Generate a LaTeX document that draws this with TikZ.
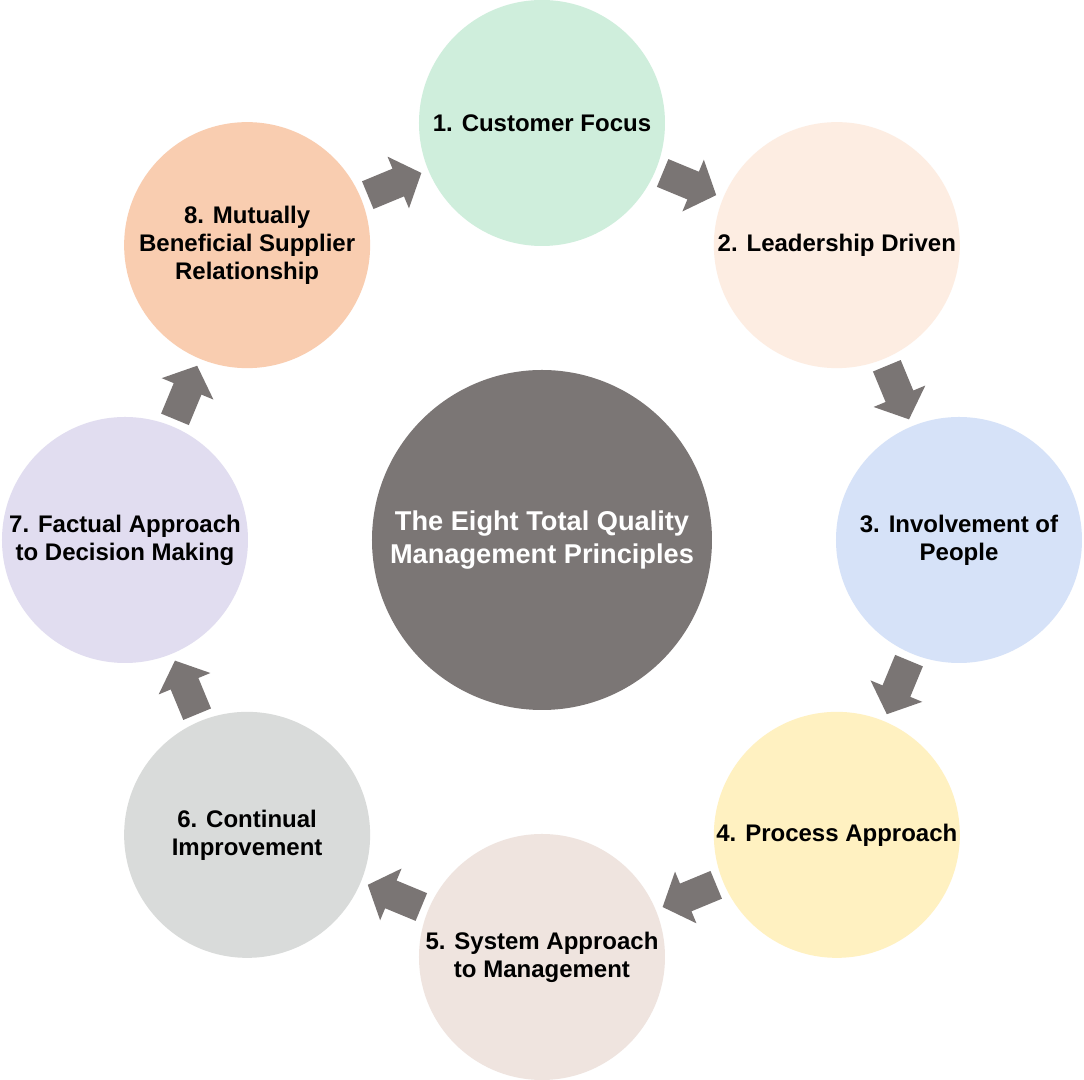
\documentclass[tikz,border=0pt]{standalone}
\usepackage{fontspec}
\setmainfont{Liberation Sans}
\usetikzlibrary{calc}
\definecolor{cA}{HTML}{CFEEDC}
\definecolor{cB}{HTML}{FDEDE2}
\definecolor{cC}{HTML}{D6E2F8}
\definecolor{cD}{HTML}{FFF1C1}
\definecolor{cE}{HTML}{EFE4DF}
\definecolor{cF}{HTML}{D9DBDA}
\definecolor{cG}{HTML}{E1DDF0}
\definecolor{cH}{HTML}{F9CDB0}
\definecolor{hubgray}{HTML}{7B7675}
\definecolor{arrowgray}{HTML}{7A7574}
\tikzset{
  principle/.style={circle, minimum size=123pt, inner sep=0pt, align=center,
    font=\bfseries\fontsize{12}{14}\selectfont, text=black},
  hub/.style={circle, minimum size=170pt, inner sep=0pt, align=center, fill=hubgray,
    font=\bfseries\fontsize{13.6}{16.5}\selectfont, text=white},
  blockarrow/.pic={\fill[arrowgray] (-29,-15) -- (4,-15) -- (4,-28) -- (29,0) -- (4,28) -- (4,15) -- (-29,15) -- cycle;}
}
\begin{document}
\begin{tikzpicture}[x=0.5pt,y=0.5pt]
\useasboundingbox (-542,-540) rectangle (542,540);
\fill[white] (-542,-540) rectangle (542,540);
\node[hub] (hub) at (0,0) {The Eight Total Quality\\Management Principles};
\node[principle, fill=cA] (p1) at (90:417) {1. Customer Focus};
\node[principle, fill=cB] (p2) at (45:417) {2. Leadership Driven};
\node[principle, fill=cC] (p3) at (0:417) {3. Involvement of\\People};
\node[principle, fill=cD] (p4) at (-45:417) {4. Process Approach};
\node[principle, fill=cE] (p5) at (-90:417) {5. System Approach\\to Management};
\node[principle, fill=cF] (p6) at (-135:417) {6. Continual\\Improvement};
\node[principle, fill=cG] (p7) at (180:417) {7. Factual Approach\\to Decision Making};
\node[principle, fill=cH] (p8) at (135:417) {8. Mutually\\Beneficial Supplier\\Relationship};
\path ($(p8)!0.5!(p1)$) pic[rotate=22.5] {blockarrow};
\path ($(p1)!0.5!(p2)$) pic[rotate=-22.5] {blockarrow};
\path ($(p2)!0.5!(p3)$) pic[rotate=-67.5] {blockarrow};
\path ($(p3)!0.5!(p4)$) pic[rotate=-112.5] {blockarrow};
\path ($(p4)!0.5!(p5)$) pic[rotate=-157.5] {blockarrow};
\path ($(p5)!0.5!(p6)$) pic[rotate=157.5] {blockarrow};
\path ($(p6)!0.5!(p7)$) pic[rotate=112.5] {blockarrow};
\path ($(p7)!0.5!(p8)$) pic[rotate=67.5] {blockarrow};
\end{tikzpicture}
\end{document}
